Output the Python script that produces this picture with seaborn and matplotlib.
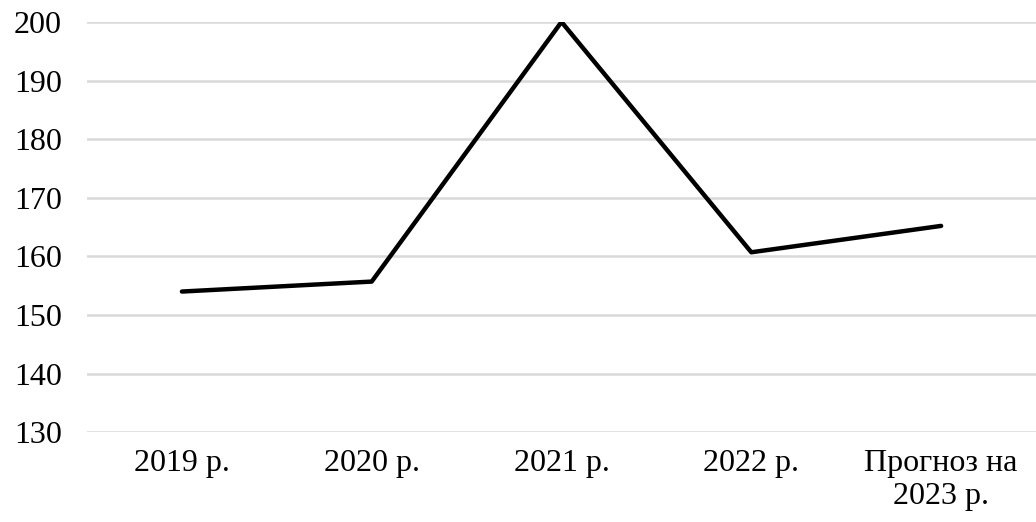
import matplotlib
matplotlib.use('Agg')
import matplotlib.pyplot as plt
import seaborn as sns
import pandas as pd

years = ['2019 р.', '2020 р.', '2021 р.', '2022 р.', 'Прогноз на\n2023 р.']
values = [154.0, 155.7, 200.0, 160.7, 165.2]
y_ticks = [130, 140, 150, 160, 170, 180, 190, 200]

df = pd.DataFrame({'year': years, 'value': values})

sns.set_style("white")
plt.rcParams['font.family'] = ['Liberation Serif', 'DejaVu Serif']

fig = plt.figure(figsize=(10.36, 5.22), dpi=100)
ax = fig.add_axes([0.084, 0.172, 0.916, 0.786])

sns.lineplot(data=df, x='year', y='value', color='black', linewidth=3.2, sort=False, ax=ax)

ax.set_ylim(130, 200)
ax.set_xlim(-0.5, 4.5)
ax.set_yticks(y_ticks)
ax.yaxis.grid(True, color='#d9d9d9', linewidth=1.8)
ax.set_axisbelow(True)
for s in ax.spines.values():
    s.set_visible(False)
ax.tick_params(axis='both', length=0, labelsize=23, labelcolor='black')
ax.tick_params(axis='y', pad=18)
ax.tick_params(axis='x', pad=12)
ax.set_xlabel('')
ax.set_ylabel('')

fig.savefig('out.png', dpi=100)
